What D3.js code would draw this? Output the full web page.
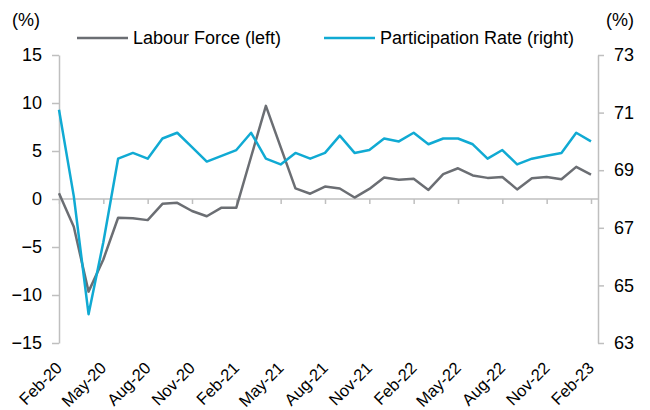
<!DOCTYPE html>
<html>
<head>
<meta charset="utf-8">
<script src="https://cdn.jsdelivr.net/npm/d3@7"></script>
<style>
  body { margin: 0; background: #fff; }
  #chart { width: 650px; height: 410px; }
  text { font-family: "Liberation Sans", Arial, sans-serif; fill: #000; }
</style>
</head>
<body>
<div id="chart"></div>
<script>
// months Feb-20 .. Feb-23
const months = ["Feb-20","Mar-20","Apr-20","May-20","Jun-20","Jul-20","Aug-20","Sep-20","Oct-20","Nov-20","Dec-20","Jan-21",
  "Feb-21","Mar-21","Apr-21","May-21","Jun-21","Jul-21","Aug-21","Sep-21","Oct-21","Nov-21","Dec-21","Jan-22",
  "Feb-22","Mar-22","Apr-22","May-22","Jun-22","Jul-22","Aug-22","Sep-22","Oct-22","Nov-22","Dec-22","Jan-23","Feb-23"];
const labourForce = [0.6,-2.9,-9.65,-6.3,-1.95,-2.0,-2.2,-0.5,-0.4,-1.25,-1.8,-0.9,
  -0.9,4.4,9.7,5.4,1.1,0.55,1.3,1.1,0.15,1.05,2.25,2.0,
  2.1,0.95,2.6,3.2,2.45,2.2,2.3,1.0,2.15,2.3,2.05,3.35,2.55];
const participation = [71.1,68.1,64.0,66.5,69.4,69.6,69.4,70.1,70.3,69.8,69.3,69.5,
  69.7,70.3,69.4,69.2,69.6,69.4,69.6,70.2,69.6,69.7,70.1,70.0,
  70.3,69.9,70.1,70.1,69.9,69.4,69.7,69.2,69.4,69.5,69.6,70.3,70.0];
const leftTicks = [-15,-10,-5,0,5,10,15];
const rightTicks = [63,65,67,69,71,73];

const width = 650, height = 410;
const svg = d3.select("#chart").append("svg")
  .attr("width", width).attr("height", height);

const margin = { top: 55, left: 59, right: 52, bottom: 67 };
const plotRight = 591, axisRight = width - margin.right;

const x = d3.scaleLinear().domain([0, months.length - 1]).range([margin.left, plotRight]);
const yL = d3.scaleLinear().domain([-15, 15]).range([height - margin.bottom, margin.top]);
const yR = d3.scaleLinear().domain([63, 73]).range([height - margin.bottom, margin.top]);

const axisColor = "#bfbfbf";
const fontSize = "18px";

// left axis
const gl = svg.append("g").attr("transform", `translate(${margin.left},0)`)
  .call(d3.axisLeft(yL).tickValues(leftTicks).tickSize(7).tickSizeOuter(0).tickPadding(10));
// right axis
const gr = svg.append("g").attr("transform", `translate(${axisRight},0)`)
  .call(d3.axisRight(yR).tickValues(rightTicks).tickSize(6).tickSizeOuter(0).tickPadding(10));
[gl, gr].forEach(g => {
  g.select(".domain").attr("stroke", axisColor).attr("stroke-width", 1.5);
  g.selectAll(".tick line").attr("stroke", axisColor).attr("stroke-width", 1.5);
  g.selectAll(".tick text").style("font-size", fontSize).attr("fill", "#000");
});

// x axis at zero
const monthIdx = d3.range(0, months.length, 3);
const gx = svg.append("g").attr("transform", `translate(0,${yL(0)})`)
  .call(d3.axisBottom(x).tickValues(monthIdx).tickSize(5).tickSizeOuter(0).tickFormat(""));
gx.select(".domain").attr("d", `M${margin.left},0H${axisRight}`)
  .attr("stroke", axisColor).attr("stroke-width", 1.5);
gx.selectAll(".tick line").attr("stroke", axisColor).attr("stroke-width", 1.5);

// rotated month labels at bottom
svg.append("g").selectAll("text")
  .data(monthIdx)
  .enter()
  .append("text")
    .attr("transform", d => `translate(${x(d) + 4},${height - margin.bottom + 26}) rotate(-45)`)
    .attr("text-anchor", "end")
    .style("font-size", "16.5px")
    .text(d => months[d]);

// lines
const lineL = d3.line().x((d, i) => x(i)).y(d => yL(d));
const lineR = d3.line().x((d, i) => x(i)).y(d => yR(d));
const grey = "#6b6e73", blue = "#10aad3";

svg.append("path").datum(labourForce)
  .attr("d", lineL).attr("fill", "none")
  .attr("stroke", grey).attr("stroke-width", 2.5).attr("stroke-linejoin", "round");
svg.append("path").datum(participation)
  .attr("d", lineR).attr("fill", "none")
  .attr("stroke", blue).attr("stroke-width", 2.5).attr("stroke-linejoin", "round");

// units
svg.append("text").attr("x", 26).attr("y", 26).attr("text-anchor", "middle")
  .style("font-size", fontSize).text("(%)");
svg.append("text").attr("x", 620).attr("y", 26).attr("text-anchor", "middle")
  .style("font-size", fontSize).text("(%)");

// legend
const legend = [
  { name: "Labour Force (left)", color: grey, x: 77 },
  { name: "Participation Rate (right)", color: blue, x: 324 }
];
const lg = svg.append("g").selectAll("g").data(legend).enter().append("g")
  .attr("transform", d => `translate(${d.x},38)`);
lg.append("line").attr("x1", 0).attr("x2", 51)
  .attr("stroke", d => d.color).attr("stroke-width", 2.5);
lg.append("text").attr("x", 56).attr("dy", "0.35em")
  .style("font-size", fontSize).text(d => d.name);
</script>
</body>
</html>
